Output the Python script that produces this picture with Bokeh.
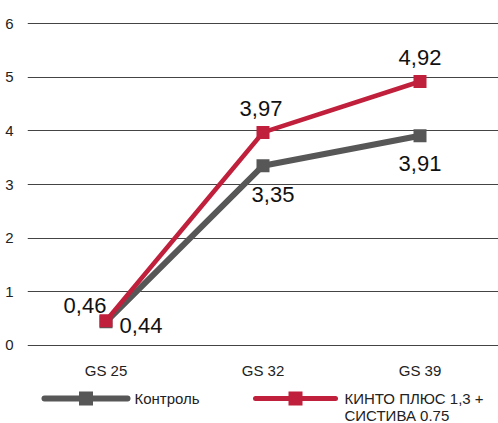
from bokeh.plotting import figure
from bokeh.layouts import column
from bokeh.models import Range1d, FactorRange, FixedTicker, ColumnDataSource
from bokeh.core.properties import value
from bokeh.embed import file_html
from bokeh.resources import INLINE

categories = ["GS 25", "GS 32", "GS 39"]
control = [0.44, 3.35, 3.91]
treatment = [0.46, 3.97, 4.92]
control_labels = ["0,44", "3,35", "3,91"]
treatment_labels = ["0,46", "3,97", "4,92"]
series_names = ["Контроль", "КИНТО ПЛЮС 1,3 +\nСИСТИВА 0.75"]
y_ticks = [0, 1, 2, 3, 4, 5, 6]

GRAY = "#575757"
RED = "#c0203b"
FONT = "Liberation Sans"

p = figure(width=498, height=381, x_range=FactorRange(*categories, range_padding=0),
           y_range=Range1d(-0.02, 6.02), output_backend="svg", toolbar_location=None,
           min_border_left=27, min_border_right=0, min_border_top=22, min_border_bottom=35)
p.outline_line_color = None
p.xgrid.grid_line_color = None
p.ygrid.ticker = FixedTicker(ticks=y_ticks)
p.ygrid.grid_line_color = "#444444"
p.ygrid.grid_line_width = 1

p.yaxis.ticker = FixedTicker(ticks=y_ticks)
for ax in (p.xaxis[0], p.yaxis[0]):
    ax.axis_line_color = None
    ax.major_tick_line_color = None
    ax.minor_tick_line_color = None
    ax.major_label_text_font = FONT
    ax.major_label_text_font_size = "15px"
    ax.major_label_text_color = "#222222"
p.yaxis.major_label_standoff = 8
p.xaxis.major_label_standoff = 9

src = ColumnDataSource(dict(x=categories, c=control, t=treatment,
                            cl=control_labels, tl=treatment_labels,
                            cxo=[35, 10, 0], cyo=[4, 29, 28],
                            txo=[-21, -2, 0], tyo=[-15, -24, -24]))

p.line("x", "c", source=src, line_color=GRAY, line_width=6)
p.scatter("x", "c", source=src, marker="square", size=13, fill_color=GRAY, line_color=None)
p.line("x", "t", source=src, line_color=RED, line_width=4.5)
p.scatter("x", "t", source=src, marker="square", size=13, fill_color=RED, line_color=None)

p.text("x", "c", text="cl", source=src, x_offset="cxo", y_offset="cyo",
       text_font=value(FONT), text_font_size="22px", text_color="#111111",
       text_align="center", text_baseline="middle")
p.text("x", "t", text="tl", source=src, x_offset="txo", y_offset="tyo",
       text_font=value(FONT), text_font_size="22px", text_color="#111111",
       text_align="center", text_baseline="middle")

# legend strip (its frame is aligned with the main frame: x 27..498 in page pixels)
leg = figure(width=498, height=42, x_range=Range1d(27, 498), y_range=Range1d(0, 42),
             output_backend="svg", toolbar_location=None,
             min_border_left=27, min_border_right=0, min_border_top=0, min_border_bottom=0)
leg.axis.visible = False
leg.grid.visible = False
leg.outline_line_color = None

leg_x0 = [44, 255]
leg_x1 = [127, 335]
leg_colors = [GRAY, RED]
leg_widths = [6, 5]
leg_text_x = [134, 344]
for i in range(2):
    leg.line([leg_x0[i], leg_x1[i]], [25, 25], line_color=leg_colors[i],
             line_width=leg_widths[i], line_cap="round")
    leg.scatter([(leg_x0[i] + leg_x1[i]) / 2], [25], marker="square", size=14,
                fill_color=leg_colors[i], line_color=None)
    for j, line_txt in enumerate(series_names[i].split("\n")):
        leg.text([leg_text_x[i]], [25 - 16.5 * j], text=[line_txt],
                 text_font=value(FONT), text_font_size="15px", text_color="#222222",
                 text_align="left", text_baseline="middle")

layout = column(p, leg, spacing=0)
open("out.html", "w").write(file_html(layout, INLINE))
